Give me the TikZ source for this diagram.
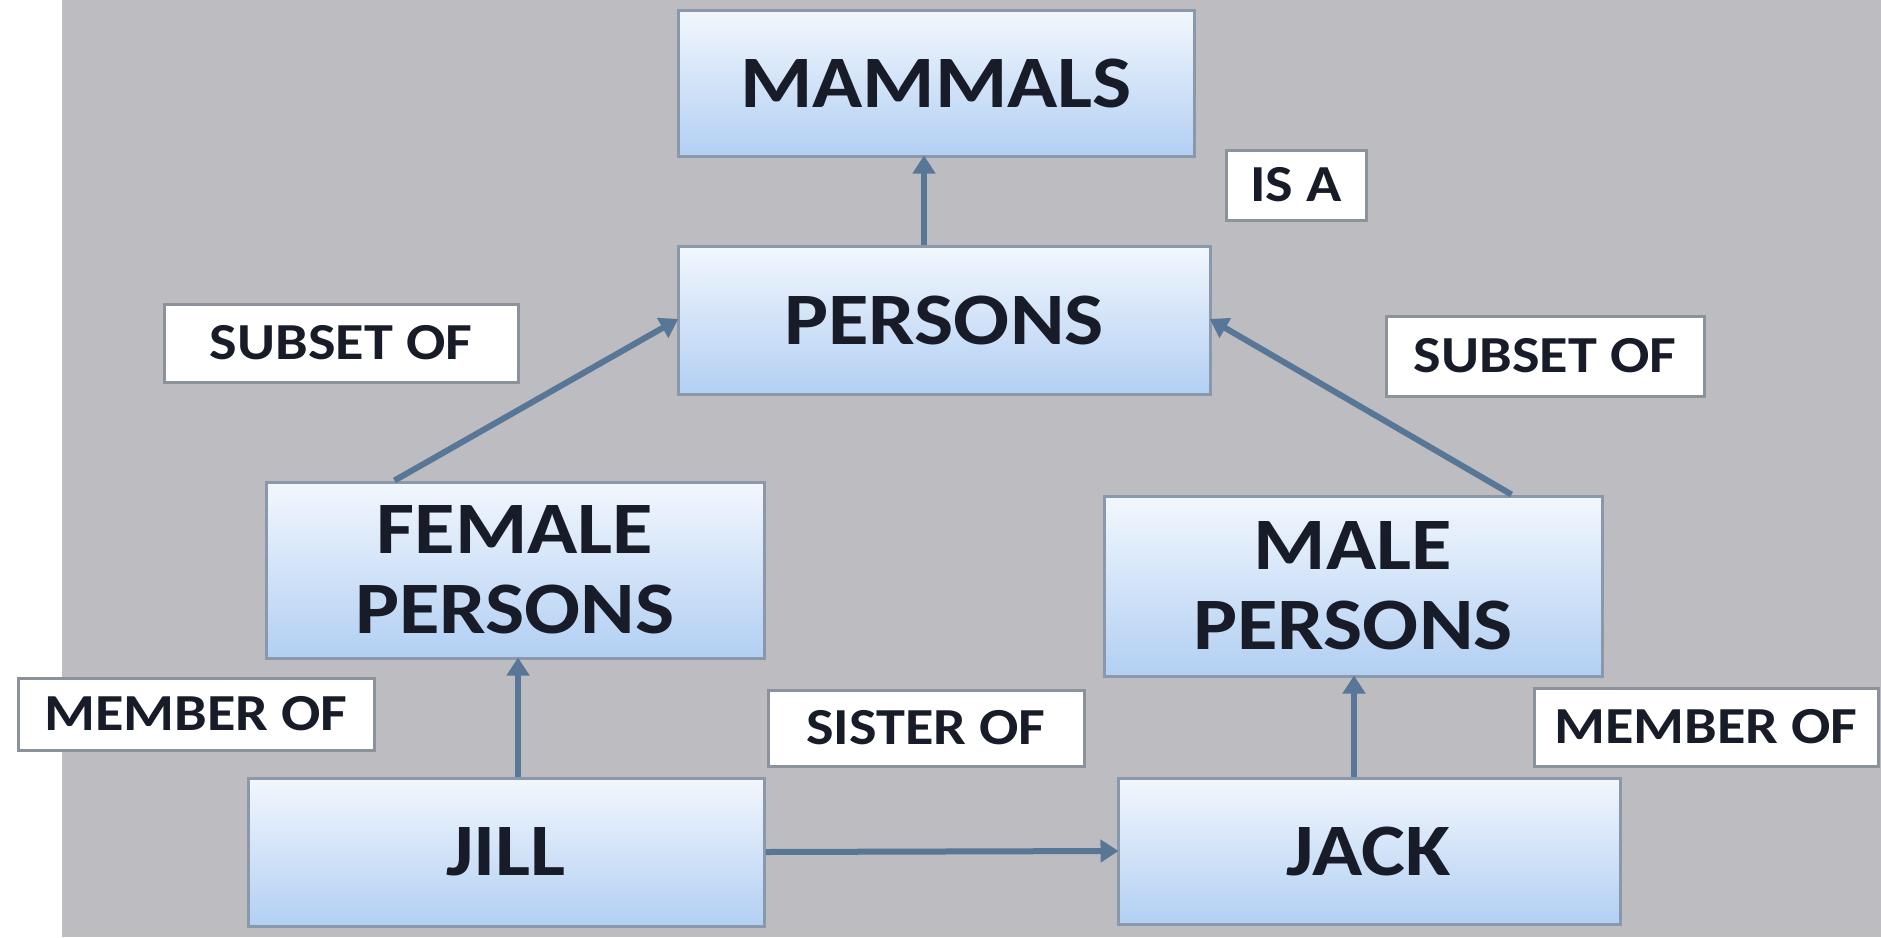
\documentclass[tikz,border=0pt]{standalone}
\usepackage{fontspec}
\setmainfont{Carlito}[FakeStretch=1.12]
\usetikzlibrary{arrows.meta}
\definecolor{bg}{RGB}{188,188,193}
\definecolor{boxtop}{RGB}{242,247,253}
\definecolor{boxbot}{RGB}{178,207,243}
\definecolor{boxline}{RGB}{138,152,172}
\definecolor{lblline}{RGB}{140,146,156}
\definecolor{arrcol}{RGB}{88,118,150}
\definecolor{txt}{RGB}{24,28,40}
\tikzset{
  conceptbox/.style={rectangle, draw=boxline, line width=3pt, top color=boxtop, bottom color=boxbot,
    text=txt, font=\fontsize{74}{80}\selectfont\bfseries, align=center, inner sep=0pt},
  relbox/.style={rectangle, draw=lblline, line width=3pt, fill=white,
    text=txt, font=\fontsize{52}{56}\selectfont\bfseries, align=center, inner sep=0pt},
  arr/.style={draw=arrcol, line width=6pt, -{Triangle[length=18pt,width=22pt]}, shorten >=-2pt}
}
\begin{document}
\begin{tikzpicture}[x=1pt,y=-1pt]
\useasboundingbox (0,0) rectangle (1881,937);
\fill[white] (0,0) rectangle (1881,937);
\fill[bg] (62,0) rectangle (1881,937);
% concept boxes
\node[conceptbox, minimum width=516pt, minimum height=146pt] (mam) at (936,83) {MAMMALS};
\node[conceptbox, minimum width=532pt, minimum height=148pt] (per) at (944,320) {PERSONS};
\node[conceptbox, minimum width=498pt, minimum height=176pt] (fem) at (515,570) {FEMALE\\PERSONS};
\node[conceptbox, minimum width=498pt, minimum height=180pt] (mal) at (1353,586) {MALE\\PERSONS};
\node[conceptbox, minimum width=516pt, minimum height=148pt] (jill) at (506,852) {JILL};
\node[conceptbox, minimum width=502pt, minimum height=146pt] (jack) at (1369,851) {JACK};
% relation labels
\node[relbox, minimum width=140pt, minimum height=70pt] (isa) at (1296,185) {IS A};
\node[relbox, minimum width=354pt, minimum height=78pt] (subL) at (341,343) {SUBSET OF};
\node[relbox, minimum width=318pt, minimum height=80pt] (subR) at (1545,356) {SUBSET OF};
\node[relbox, minimum width=356pt, minimum height=72pt] (memL) at (196,714) {MEMBER OF};
\node[relbox, minimum width=316pt, minimum height=76pt] (sis) at (926,728) {SISTER OF};
\node[relbox, minimum width=344pt, minimum height=78pt] (memR) at (1706,727) {MEMBER OF};
% connectors
\draw[arr] ([xshift=-20pt]per.north) -- ([xshift=-20pt]per.north |- mam.south);
\draw[arr] ([xshift=130pt]fem.north west) -- (per.west);
\draw[arr] ([xshift=-92pt]mal.north east) -- (per.east);
\draw[arr] ([xshift=12pt]jill.north) -- ([xshift=12pt]jill.north |- fem.south);
\draw[arr] ([xshift=-15pt]jack.north) -- ([xshift=-15pt]jack.north |- mal.south);
\draw[arr] (jill.east) -- (jack.west);
\end{tikzpicture}
\end{document}
